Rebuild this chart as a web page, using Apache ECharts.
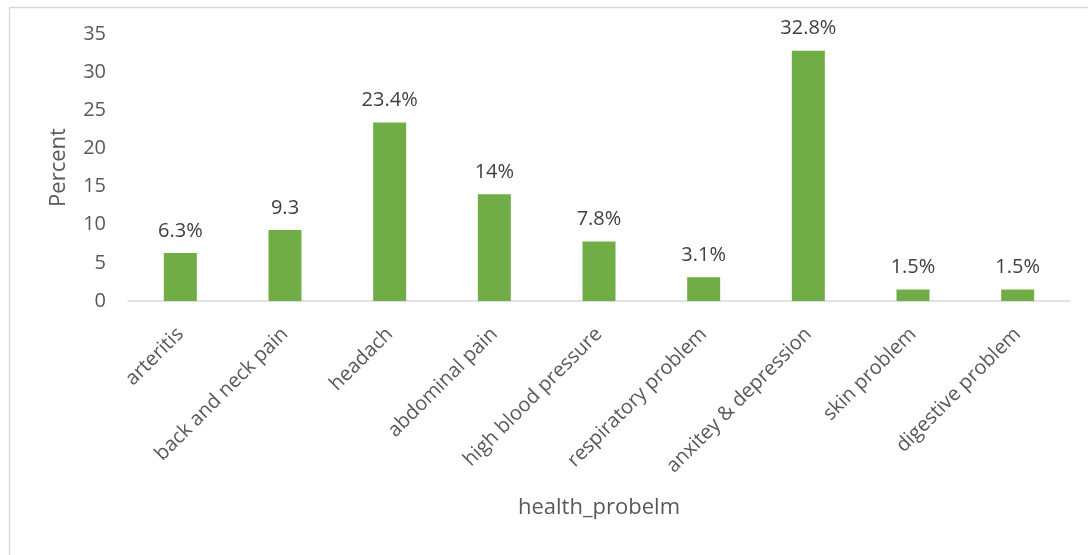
<!DOCTYPE html>
<html>
<head>
<meta charset="utf-8">
<script src="https://cdn.jsdelivr.net/npm/echarts@6/dist/echarts.min.js"></script>
<style>
html,body{margin:0;padding:0;background:#fff;}
#chart{width:1088px;height:555px;}
</style>
</head>
<body>
<div id="chart"></div>
<script>
const categories = ["arteritis","back and neck pain","headach","abdominal pain","high blood pressure","respiratory problem","anxitey & depression","skin problem","digestive problem"];
const values = [6.3, 9.3, 23.4, 14, 7.8, 3.1, 32.8, 1.5, 1.5];
const valueLabels = ["6.3%","9.3","23.4%","14%","7.8%","3.1%","32.8%","1.5%","1.5%"];
const yTicks = [0,5,10,15,20,25,30,35];
const xTitle = "health_probelm";
const yTitle = "Percent";

const FONT = "Open Sans";
const chart = echarts.init(document.getElementById('chart'), null, {renderer:'canvas'});
chart.setOption({
  animation:false,
  backgroundColor:'#ffffff',
  graphic:[{
    type:'rect', left:7, top:5,
    shape:{width:1200, height:700},
    style:{fill:'none', stroke:'#d9d9d9', lineWidth:1.3},
    silent:true
  }],
  grid:{left:128, right:18, top:34, bottom:254, containLabel:false},
  xAxis:{
    type:'category',
    data:categories,
    name:xTitle,
    nameLocation:'middle',
    nameGap:196,
    nameTextStyle:{fontFamily:FONT, fontSize:22, color:'#595959'},
    axisLine:{lineStyle:{color:'#d9d9d9', width:1.5}},
    axisTick:{show:false},
    axisLabel:{rotate:45, margin:30, interval:0, fontFamily:FONT, fontSize:20, color:'#595959'}
  },
  yAxis:{
    type:'value',
    min:yTicks[0], max:yTicks[yTicks.length-1], interval:yTicks[1]-yTicks[0],
    name:yTitle,
    nameLocation:'middle',
    nameGap:58,
    nameTextStyle:{fontFamily:FONT, fontSize:22, color:'#595959'},
    axisLine:{show:false},
    axisTick:{show:false},
    splitLine:{show:false},
    axisLabel:{margin:22, fontFamily:FONT, fontSize:20, color:'#595959'}
  },
  series:[{
    type:'bar',
    data:values,
    barWidth:33,
    itemStyle:{color:'#70AD47'},
    label:{
      show:true, position:'top', distance:12,
      fontFamily:FONT, fontSize:20, color:'#404040',
      formatter:p=>valueLabels[p.dataIndex]
    }
  }]
});
</script>
</body>
</html>
